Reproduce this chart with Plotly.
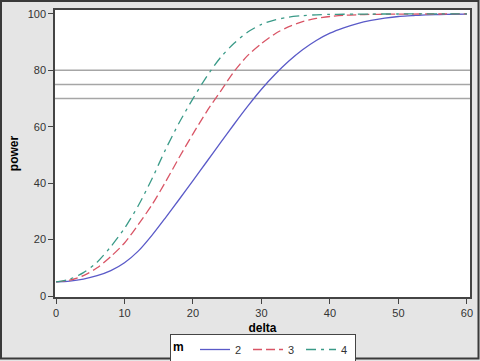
import plotly.graph_objects as go

delta = [0, 2, 4, 6, 8, 10, 12, 14, 16, 18, 20, 22, 24, 26, 28, 30,
         32, 34, 36, 38, 40, 42, 44, 46, 48, 50, 52, 54, 56, 58, 60]

power_m2 = [5.0, 5.3, 6.0, 7.2, 9.0, 11.8, 15.9, 21.5, 27.8, 34.3, 40.9, 47.6,
            54.3, 60.9, 67.3, 73.3, 78.6, 83.3, 87.3, 90.6, 93.2, 95.1, 96.6,
            97.7, 98.5, 99.1, 99.4, 99.7, 99.8, 99.9, 99.95]
power_m3 = [5.0, 5.6, 7.2, 10.0, 14.0, 18.8, 25.3, 32.3, 40.5, 49.2, 57.5, 65.4,
            72.5, 79.6, 85.3, 89.5, 93.0, 95.5, 97.3, 98.4, 99.1, 99.5, 99.7,
            99.85, 99.9, 99.95, 99.97, 99.98, 99.99, 100.0, 100.0]
power_m4 = [5.0, 6.0, 8.3, 12.0, 17.5, 24.0, 32.0, 41.5, 52.0, 61.5, 70.0, 77.8,
            84.5, 89.6, 93.6, 96.3, 97.9, 98.9, 99.4, 99.7, 99.85, 99.9, 99.95,
            99.97, 99.98, 99.99, 100.0, 100.0, 100.0, 100.0, 100.0]

ref_lines = [70, 75, 80]
m_labels = ["2", "3", "4"]

colors = ["#5a5ac8", "#d95566", "#3a9a88"]
dashes = ["solid", "9px,4px", "10px,5px,3px,5px"]

fig = go.Figure()
for lab, ys, c, d in zip(m_labels, [power_m2, power_m3, power_m4], colors, dashes):
    fig.add_trace(go.Scatter(x=delta, y=ys, mode="lines", name=lab,
                             line=dict(color=c, width=1.3, dash=d, shape="spline",
                                       smoothing=0.8)))

for r in ref_lines:
    fig.add_hline(y=r, line=dict(color="#a6a6a6", width=1.5), layer="below")

L, R, T, B = 55, 10, 10, 64
W, H = 480, 361
pw, ph = W - L - R, H - T - B

def px2x(px):
    return (px - L) / pw

def py2y(py):
    return (H - B - py) / ph

# outer frame
fig.add_shape(type="rect", xref="paper", yref="paper",
              x0=px2x(1), x1=px2x(478.5), y0=py2y(358.5), y1=py2y(1),
              line=dict(color="#3a3a3a", width=2), layer="below")

FONT = "Liberation Sans, Arial, sans-serif"
axis_common = dict(showgrid=False, zeroline=False, showline=True, mirror=True,
                   linecolor="#444444", linewidth=1.5, ticks="outside",
                   ticklen=5, tickwidth=1, tickcolor="#444444",
                   tickfont=dict(family=FONT, size=11, color="#333333"))

fig.update_xaxes(range=[-0.15, 60.45], tickvals=[0, 10, 20, 30, 40, 50, 60],
                 title=dict(text="<b>delta</b>", standoff=6,
                            font=dict(family=FONT, size=12, color="#000000")),
                 **axis_common)
fig.update_yaxes(range=[-0.35, 101.4], tickvals=[0, 20, 40, 60, 80, 100],
                 title=dict(text="<b>power</b>", standoff=6,
                            font=dict(family=FONT, size=12, color="#000000")),
                 **axis_common)

fig.update_layout(
    width=W, height=H,
    margin=dict(l=L, r=R, t=T, b=B, autoexpand=False),
    paper_bgcolor="#e5e5e5", plot_bgcolor="#ffffff",
    showlegend=True,
    legend=dict(orientation="h", x=px2x(263), xanchor="center",
                y=py2y(334), yanchor="top",
                title=dict(text="<b>m</b> ", side="left",
                           font=dict(family=FONT, size=12, color="#000000")),
                font=dict(family=FONT, size=11, color="#333333"),
                bgcolor="#ffffff", bordercolor="#444444", borderwidth=1,
                itemwidth=30, entrywidth=8, entrywidthmode="pixels",
                tracegroupgap=0),
)

fig.write_html("out.html", config={"displayModeBar": False},
               post_script="document.body.style.margin='0';document.body.style.overflow='hidden';")
